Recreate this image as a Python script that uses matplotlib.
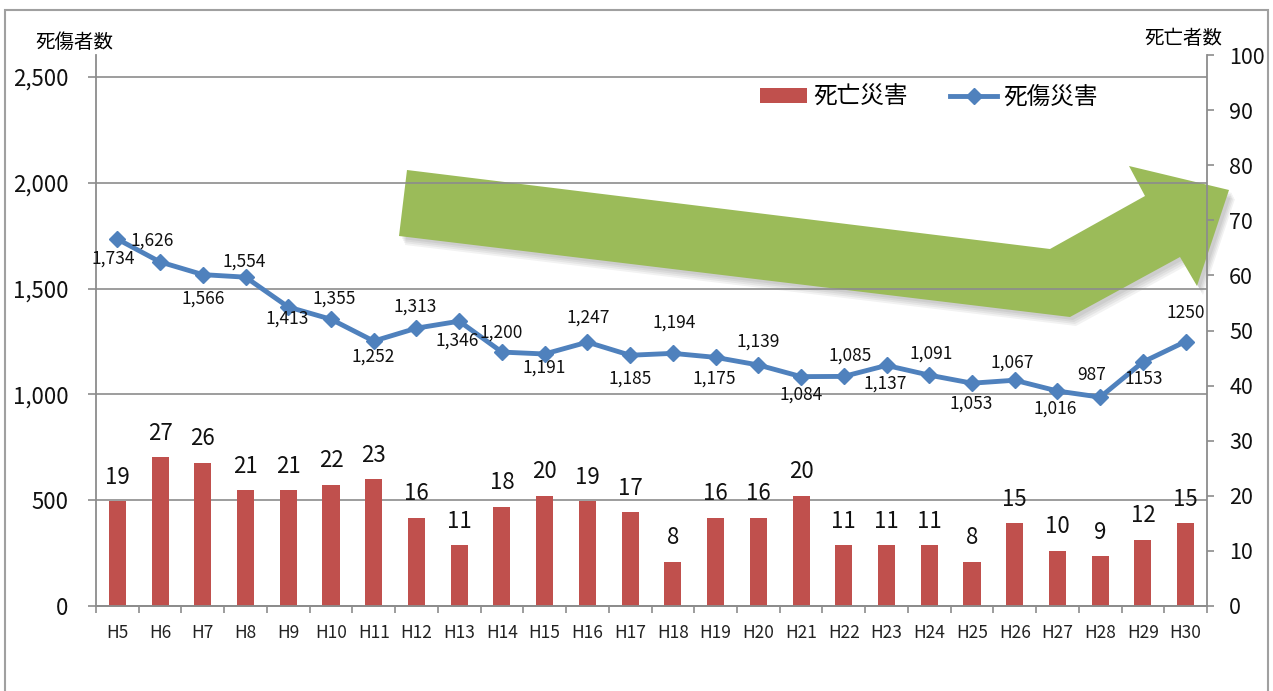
import matplotlib
matplotlib.use("Agg")
import matplotlib.pyplot as plt
from matplotlib.patches import Polygon, Rectangle
from matplotlib.ticker import FixedLocator, FuncFormatter

plt.rcParams["font.family"] = ["Noto Sans CJK JP", "DejaVu Sans"]

years = ["H5", "H6", "H7", "H8", "H9", "H10", "H11", "H12", "H13", "H14",
         "H15", "H16", "H17", "H18", "H19", "H20", "H21", "H22", "H23", "H24",
         "H25", "H26", "H27", "H28", "H29", "H30"]
deaths = [19, 27, 26, 21, 21, 22, 23, 16, 11, 18, 20, 19, 17, 8, 16, 16,
          20, 11, 11, 11, 8, 15, 10, 9, 12, 15]
casualties = [1734, 1626, 1566, 1554, 1413, 1355, 1252, 1313, 1346, 1200,
              1191, 1247, 1185, 1194, 1175, 1139, 1084, 1085, 1137, 1091,
              1053, 1067, 1016, 987, 1153, 1250]
# the last two labels are written without a thousands separator
plain_labels = {"H29", "H30"}

# label offsets from each marker, in pixels (x right, y down)
label_dx = [-4, -8, 0, -1, -1, 3, -1, -1, -2, -1, 0, 1, 0, 1, -1, 0,
            0, 6, -1, 2, -1, -2, -2, -8, 1, 0]
label_dy = [20, -21, 24, -16, 12, -21, 16, -22, 19, -19, 14, -25, 23, -31,
            21, -23, 18, -21, 18, -22, 20, -18, 18, -22, 17, -29]

W, H = 1273, 691
BAR = "#C0504D"
LINE = "#4F81BD"
ARROW = "#9BBB59"
GRID = "#8C8C8C"


def px(x, y):
    return (x / W, 1 - y / H)


fig = plt.figure(figsize=(W / 100, H / 100), dpi=100)
ax = fig.add_axes([96 / W, 1 - 606 / H, 1111 / W, 551 / H])
ax.set_facecolor("none")
ax2 = ax.twinx()

xs = list(range(len(years)))

# casualties line, left scale
ax.plot(xs, casualties, color=LINE, lw=3.5, marker="D", ms=8.5,
        solid_joinstyle="round", label="死傷災害", zorder=3)
for i, (yr, v) in enumerate(zip(years, casualties)):
    txt = f"{v}" if yr in plain_labels else f"{v:,}"
    ax.annotate(txt, (i, v), xytext=(label_dx[i] * 0.72, -label_dy[i] * 0.72),
                textcoords="offset points", ha="center", va="center",
                fontsize=12.5, color="#111111")

ax.set_ylim(0, 2500 * 551 / 529)
ax.set_xlim(-0.5, len(years) - 0.5)
ax.yaxis.set_major_locator(FixedLocator([0, 500, 1000, 1500, 2000, 2500]))
ax.yaxis.set_major_formatter(FuncFormatter(lambda v, p: f"{int(v):,}"))
ax.grid(axis="y", color=GRID, lw=1.2)
ax.tick_params(axis="y", length=6, width=1.2, color=GRID, pad=14,
               labelsize=16, labelcolor="#111111")

# deaths bars, right scale
bars = ax2.bar(xs, deaths, width=0.4, color=BAR, label="死亡災害", zorder=2)
for i, v in enumerate(deaths):
    ax2.annotate(str(v), (i, v), xytext=(0, 24 * 0.72), textcoords="offset points",
                 ha="center", va="center", fontsize=16, color="#111111")
ax2.set_ylim(0, 100)
ax2.yaxis.set_major_locator(FixedLocator(range(0, 101, 10)))
ax2.tick_params(axis="y", length=5, width=1.2, color=GRID, pad=11,
                labelsize=15.5, labelcolor="#111111")

# category ticks sit between the bars
ax.set_xticks(xs)
ax.set_xticklabels(years)
ax.set_xticks([i - 0.5 for i in range(len(years) + 1)], minor=True)
ax.tick_params(axis="x", which="major", length=0, pad=13, labelsize=12.5,
               labelcolor="#222222")
ax.tick_params(axis="x", which="minor", length=5, width=1.2, color=GRID)

for a in (ax, ax2):
    a.spines["top"].set_visible(False)
    for s in ("left", "right", "bottom"):
        a.spines[s].set_color(GRID)
        a.spines[s].set_linewidth(1.3)
ax.spines["right"].set_visible(False)
ax2.spines["left"].set_visible(False)

fig.text(*px(35, 42), "死傷者数", fontsize=14, ha="left", va="center")
fig.text(*px(1222, 38), "死亡者数", fontsize=14, ha="right", va="center")

line_handle = ax.get_lines()[0]
fig.legend([bars, line_handle], ["死亡災害", "死傷災害"],
           loc="center left", bbox_to_anchor=px(760, 97), ncol=2,
           frameon=False, borderpad=0, borderaxespad=0, fontsize=17,
           handlelength=2.0, handleheight=0.6, handletextpad=0.25,
           columnspacing=1.8)

# trend arrow with a soft shadow
arrow_pts = [(407, 170), (1050, 249), (1145, 196), (1129, 166), (1229, 190),
             (1197, 286), (1180, 257), (1070, 317), (399, 236)]
for k, (ox, oy) in enumerate([(6, 9), (5, 7), (4, 5), (3, 3)]):
    fig.patches.append(Polygon([px(x + ox, y + oy) for x, y in arrow_pts],
                               closed=True, transform=fig.transFigure,
                               facecolor="#000000", alpha=0.05, lw=0,
                               zorder=-2))
fig.patches.append(Polygon([px(x, y) for x, y in arrow_pts], closed=True,
                           transform=fig.transFigure, facecolor=ARROW,
                           lw=0, zorder=-1))

# outer frame
fig.patches.append(Rectangle(px(5, 720), 1263 / W, 710 / H,
                             transform=fig.transFigure, fill=False,
                             edgecolor="#A0A0A0", lw=1.5, zorder=5))

fig.savefig("out.png", dpi=100)
